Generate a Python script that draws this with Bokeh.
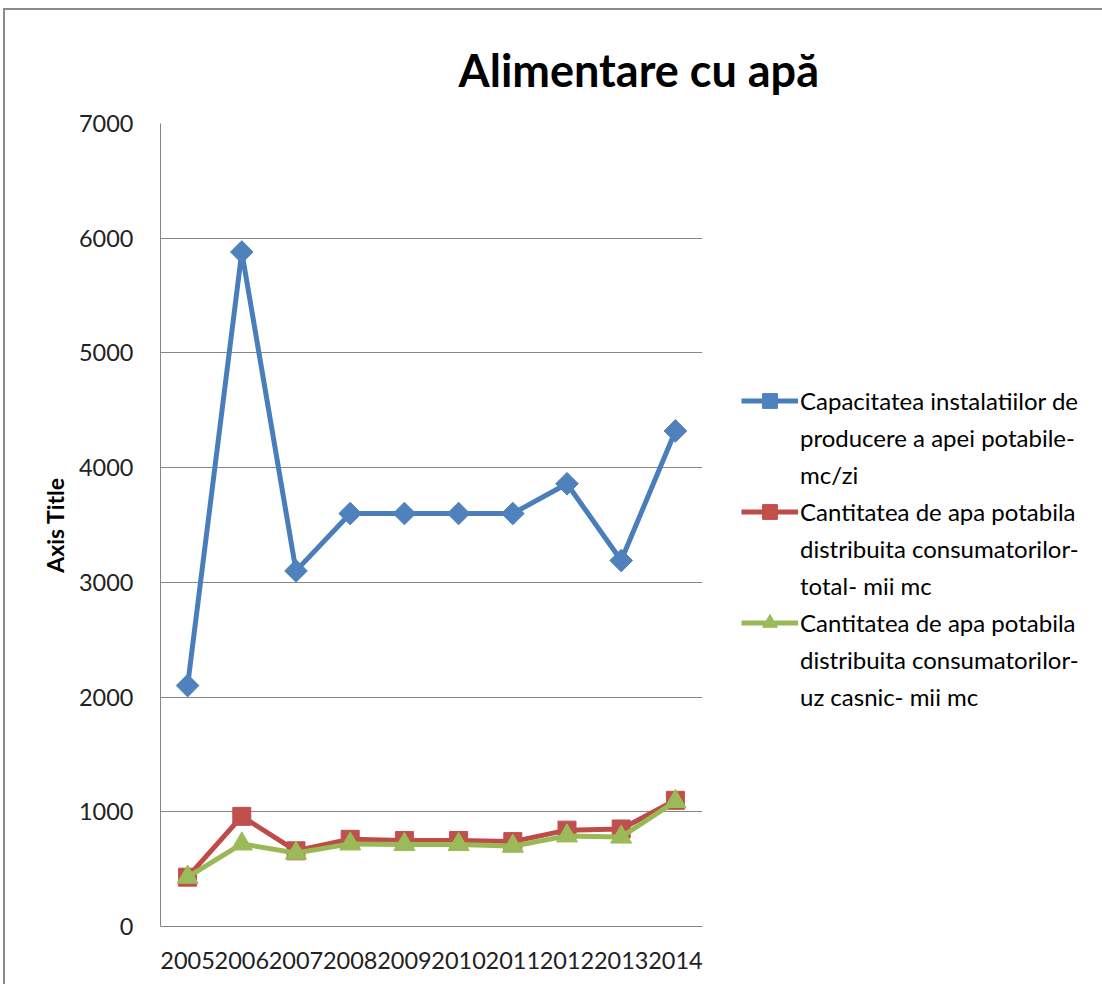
import math
from bokeh.plotting import figure
from bokeh.models import Range1d, FactorRange, Legend, LegendItem, FixedTicker
from bokeh.embed import file_html
from bokeh.resources import INLINE

years = ["2005", "2006", "2007", "2008", "2009", "2010", "2011", "2012", "2013", "2014"]
capacitate = [2100, 5880, 3100, 3600, 3600, 3600, 3600, 3860, 3190, 4320]
total = [430, 960, 660, 760, 750, 750, 740, 840, 850, 1100]
casnic = [430, 720, 640, 720, 715, 715, 700, 790, 780, 1090]
y_ticks = [0, 1000, 2000, 3000, 4000, 5000, 6000, 7000]

label_lines = [
    ["Capacitatea instalatiilor de", "producere a apei potabile-", "mc/zi"],
    ["Cantitatea de apa potabila", "distribuita consumatorilor-", "total- mii mc"],
    ["Cantitatea de apa potabila", "distribuita consumatorilor-", "uz casnic- mii mc"],
]

FONT = "Lato"
GRID = "#868686"

p = figure(
    x_range=FactorRange(*years),
    y_range=Range1d(0, 7000),
    frame_width=542, frame_height=803,
    output_backend="svg", toolbar_location=None,
    min_border_left=155, min_border_right=390,
    min_border_top=113, min_border_bottom=58,
)
p.styles = {
    "margin-left": "3px", "margin-top": "8px",
    "border-left": "2px solid #8a8a8a", "border-top": "2px solid #8a8a8a",
    "border-right": "0px none", "border-bottom": "0px none",
}
p.outline_line_color = None
p.background_fill_color = "white"
p.border_fill_color = "white"
p.xgrid.visible = False
p.ygrid.grid_line_color = GRID
p.ygrid.grid_line_width = 1

p.title.text = "Alimentare cu apă"
p.title.text_font = FONT
p.title.text_font_style = "bold"
p.title.text_font_size = "45px"
p.title.text_color = "#000000"
p.title.align = "left"
p.title.offset = 298
p.title.standoff = 54

p.yaxis.ticker = FixedTicker(ticks=y_ticks)
p.yaxis.axis_line_color = GRID
p.yaxis.major_tick_line_color = None
p.yaxis.minor_tick_line_color = None
p.yaxis.major_tick_out = 0
p.yaxis.major_label_standoff = 27
p.yaxis.major_label_text_font = FONT
p.yaxis.major_label_text_font_size = "23.5px"
p.yaxis.major_label_text_color = "#222222"
p.yaxis.axis_label = "Axis Title"
p.yaxis.axis_label_text_font = FONT
p.yaxis.axis_label_text_font_style = "bold"
p.yaxis.axis_label_text_font_size = "23px"
p.yaxis.axis_label_text_color = "#000000"
p.yaxis.axis_label_standoff = 7

p.xaxis.axis_line_color = GRID
p.xaxis.major_tick_line_color = None
p.xaxis.minor_tick_line_color = None
p.xaxis.major_tick_out = 0
p.xaxis.major_label_standoff = 25
p.xaxis.major_label_text_font = FONT
p.xaxis.major_label_text_font_size = "23.5px"
p.xaxis.major_label_text_color = "#222222"

series = [
    (capacitate, "#4A7EBB", "#4F81BD", "square", 16, math.pi / 4),
    (total, "#BE4B48", "#C0504D", "square", 18, 0),
    (casnic, "#98B954", "#9BBB59", "triangle", 21, 0),
]
items = []
for (vals, lc, mc, mk, sz, ang), lines in zip(series, label_lines):
    r1 = p.line(years, vals, line_color=lc, line_width=5)
    r2 = p.scatter(years, vals, marker=mk, size=sz, angle=ang,
                   fill_color=mc, line_color=mc)
    items.append(LegendItem(label=lines[0], renderers=[r1, r2]))
    for extra in lines[1:]:
        items.append(LegendItem(label=extra, renderers=[]))

legend = Legend(
    items=items, location=(39, 211),
    label_text_font=FONT, label_text_font_size="24px", label_text_color="#000000",
    label_text_line_height=1.2,
    glyph_width=57, glyph_height=37, label_height=37, label_standoff=2, spacing=0,
    padding=0, margin=0, border_line_color=None, background_fill_alpha=0,
)
p.add_layout(legend, "right")

open("out.html", "w").write(file_html(p, INLINE))
